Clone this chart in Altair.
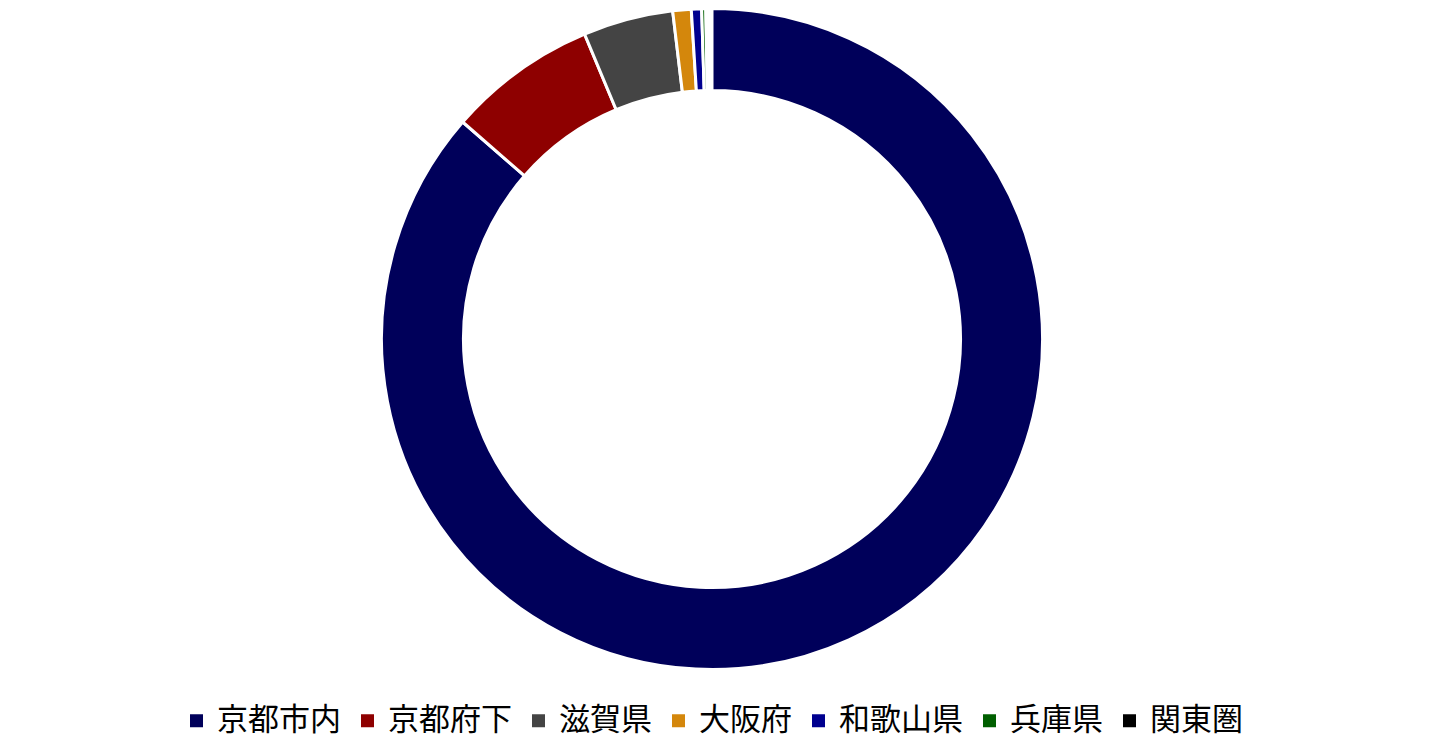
import math
import altair as alt
import pandas as pd

categories = ["京都市内", "京都府下", "滋賀県", "大阪府", "和歌山県", "兵庫県", "関東圏"]
shares = [86.4, 7.3, 4.4, 0.9, 0.5, 0.2, 0.1]
colors = ["#00005A", "#8E0000", "#444444", "#D4870C", "#00008F", "#005F00", "#000000"]

df = pd.DataFrame({"地域": categories, "割合": shares, "順": list(range(len(categories)))})

total = sum(shares)

chart = (
    alt.Chart(df)
    .mark_arc(outerRadius=330.5, innerRadius=248.5, stroke="white", strokeWidth=3)
    .encode(
        x=alt.value(699),
        y=alt.value(326),
        theta=alt.Theta("割合:Q", stack=True,
                        scale=alt.Scale(range=[0, 2 * math.pi * total / 100])),
        order=alt.Order("順:Q", sort="ascending"),
        color=alt.Color(
            "地域:N",
            scale=alt.Scale(domain=categories, range=colors),
            legend=alt.Legend(
                title=None,
                orient="none",
                direction="horizontal",
                columns=7,
                legendX=168,
                legendY=692,
                symbolType="square",
                symbolSize=169,
                symbolStrokeWidth=0,
                labelFont="Noto Sans CJK JP",
                labelFontSize=31,
                labelColor="#000000",
                labelOffset=5,
                columnPadding=11,
                labelLimit=400,
            ),
        ),
    )
    .properties(
        width=1414,
        height=730,
        padding=5,
        autosize=alt.AutoSizeParams(type="none"),
    )
    .configure_view(strokeWidth=0)
)

chart.save("out.html", embed_options={"renderer": "svg", "actions": False})
